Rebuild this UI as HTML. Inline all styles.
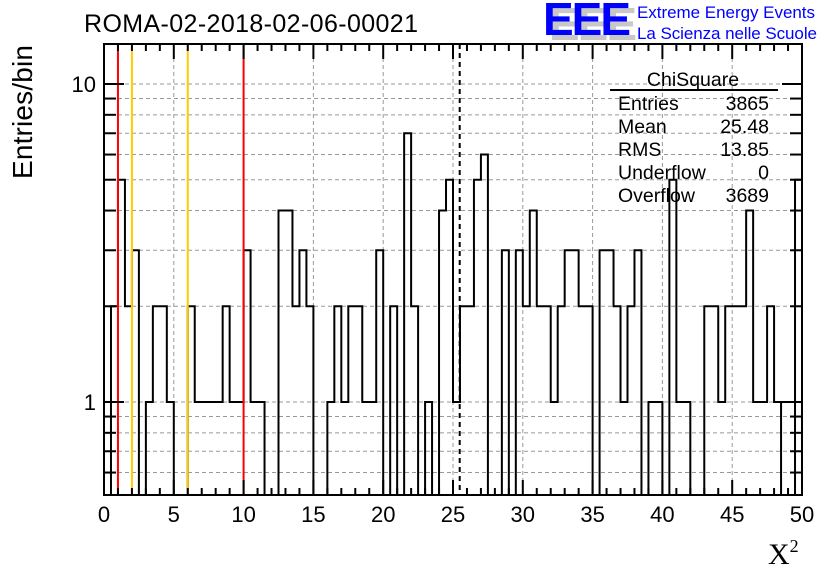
<!DOCTYPE html>
<html><head><meta charset="utf-8"><style>
body{margin:0;background:#fff;}
svg{display:block;font-family:"Liberation Sans",sans-serif;}
</style></head><body>
<svg id="c" width="836" height="572" viewBox="0 0 836 572">
<rect width="836" height="572" fill="#fff"/>
<g id="grid"></g>
<g id="marks"></g>
<g id="axes"></g>
<text x="84" y="32" font-size="25" fill="#000" textLength="334">ROMA-02-2018-02-06-00021</text>
<g>
<text x="549" y="40" font-size="46" font-weight="bold" fill="#c8c8c8" letter-spacing="-2">EEE</text>
<text x="543" y="35" font-size="46" font-weight="bold" fill="#0000ff" letter-spacing="-2">EEE</text>
<text x="637" y="18" font-size="17" fill="#0000ff" textLength="178">Extreme Energy Events</text>
<text x="637" y="39" font-size="17" fill="#0000ff" textLength="180">La Scienza nelle Scuole</text>
</g>
<g font-size="19.5">
<text x="693" y="86" text-anchor="middle">ChiSquare</text>
<line x1="610" y1="90" x2="778" y2="90" stroke="#000" stroke-width="2"/>
<text x="618" y="110">Entries</text><text x="769" y="110" text-anchor="end">3865</text>
<text x="618" y="133">Mean</text><text x="769" y="133" text-anchor="end">25.48</text>
<text x="618" y="156">RMS</text><text x="769" y="156" text-anchor="end">13.85</text>
<text x="618" y="179">Underflow</text><text x="769" y="179" text-anchor="end">0</text>
<text x="618" y="202">Overflow</text><text x="769" y="202" text-anchor="end">3689</text>
</g>
<text transform="translate(32,112) rotate(-90)" text-anchor="middle" font-size="28" textLength="134">Entries/bin</text>
<text x="768" y="564" font-size="30" font-family="Liberation Serif,serif">X<tspan font-size="18" dy="-12">2</tspan></text>
</svg>
<script>
const counts=[0,2,5,2,3,0,1,2,2,1,0,0,2,1,1,1,1,2,1,1,3,1,1,0,0,4,4,2,3,2,0,0,1,2,1,2,2,1,1,3,0,2,0,7,2,0,1,0,4,5,1,2,2,5,6,0,0,3,0,3,2,4,2,2,1,2,3,3,2,2,0,3,3,2,1,2,3,0,1,1,0,5,1,1,0,0,2,2,1,2,2,2,4,1,1,2,1,0,0,5];
const xTicks=[0,5,10,15,20,25,30,35,40,45,50];
const yLabels=[1,10];
const yGrid=[0.6,0.7,0.8,0.9,1,2,3,4,5,6,7,8,9,10];
const redLines=[1,10];
const yellowLines=[2,6];
const meanValue=25.48;
const X0=104,X1=802,Y0=44,Y1=495,XMIN=0,XMAX=50;
const x=v=>X0+(v-XMIN)/(XMAX-XMIN)*(X1-X0);
const y=v=>402-318*Math.log10(v);
const NS="http://www.w3.org/2000/svg";
function mk(tag,attrs,parent){const e=document.createElementNS(NS,tag);for(const k in attrs)e.setAttribute(k,attrs[k]);document.getElementById(parent).appendChild(e);return e;}
xTicks.slice(1,-1).forEach(v=>{const l=mk('line',{x1:x(v),x2:x(v),y1:Y0,y2:Y1,stroke:'#999','stroke-dasharray':'4,3','stroke-width':1},'grid');

});
yGrid.forEach(v=>{const l=mk('line',{x1:X0,x2:X1,y1:y(v),y2:y(v),stroke:'#999','stroke-dasharray':'4,3','stroke-width':1},'grid');

});
const bw=(XMAX-XMIN)/counts.length;
const yb=v=>v>0?y(v):Y1;
let d='M'+x(0)+','+Y1;
counts.forEach((c,i)=>{d+=' L'+x(i*bw)+','+yb(c)+' L'+x((i+1)*bw)+','+yb(c);});
d+=' L'+x(XMAX)+','+Y1;
const h=mk('path',{d:d,fill:'none',stroke:'#000','stroke-width':2},'marks');


redLines.forEach(v=>{const l=mk('line',{x1:x(v),x2:x(v),y1:Y0,y2:Y1,stroke:'#ff0000','stroke-width':2},'marks');

});
yellowLines.forEach(v=>{const l=mk('line',{x1:x(v),x2:x(v),y1:Y0,y2:Y1,stroke:'#ffcc00','stroke-width':2},'marks');

});
const m=mk('line',{x1:x(meanValue),x2:x(meanValue),y1:Y0,y2:Y1,stroke:'#000','stroke-width':2,'stroke-dasharray':'5,4'},'marks');


const f=mk('rect',{x:X0,y:Y0,width:X1-X0,height:Y1-Y0,fill:'none',stroke:'#000','stroke-width':2},'axes');


for(let v=XMIN;v<=XMAX;v+=1){const len=v%5===0?15:7;
mk('line',{x1:x(v),x2:x(v),y1:Y1,y2:Y1-len,stroke:'#000','stroke-width':2},'axes');
mk('line',{x1:x(v),x2:x(v),y1:Y0,y2:Y0+len,stroke:'#000','stroke-width':2},'axes');}
xTicks.forEach(v=>{const t=mk('text',{x:x(v),y:522,'text-anchor':'middle','font-size':22},'axes');t.textContent=v;

});
yGrid.forEach(v=>{const len=(v===1||v===10)?20:12;
mk('line',{x1:X0,x2:X0+len,y1:y(v),y2:y(v),stroke:'#000','stroke-width':2},'axes');
mk('line',{x1:X1,x2:X1-len,y1:y(v),y2:y(v),stroke:'#000','stroke-width':2},'axes');});
yLabels.forEach(v=>{const t=mk('text',{x:96,y:y(v)+8,'text-anchor':'end','font-size':22},'axes');t.textContent=v;

});
</script>
</body></html>
